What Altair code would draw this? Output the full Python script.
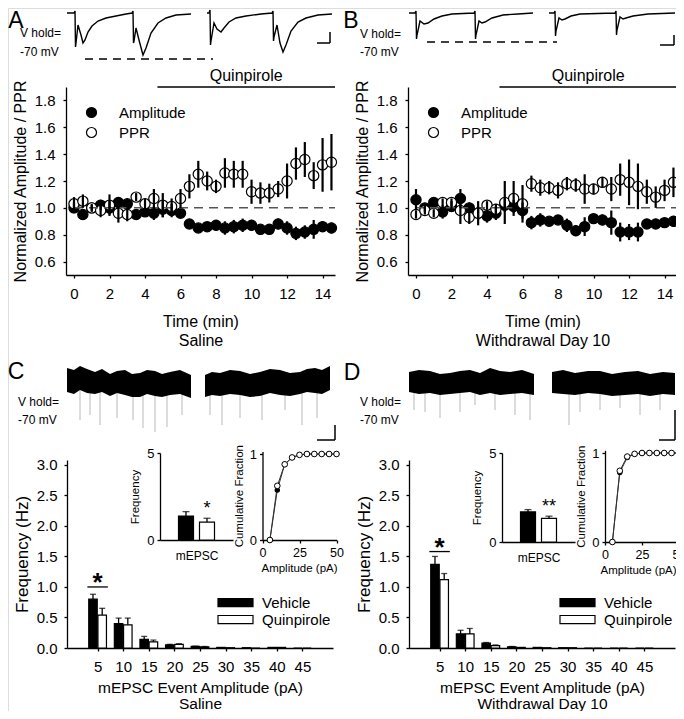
import altair as alt
import pandas as pd

FONT = "Liberation Sans"
W, H = 668, 703


def px(v):
    return v - 8


def py(v):
    return v - 8


# ---------------- data: panels A / B (time course) ----------------
times = [0.0, 0.5, 1.0, 1.5, 2.0, 2.5, 3.0, 3.5, 4.0, 4.5, 5.0, 5.5, 6.0, 6.5, 7.0,
         7.5, 8.0, 8.5, 9.0, 9.5, 10.0, 10.5, 11.0, 11.5, 12.0, 12.5, 13.0, 13.5, 14.0, 14.5]

sal_amp = [1.00, 0.95, 1.00, 1.02, 1.00, 1.04, 1.03, 0.95, 0.97, 0.96, 0.99, 0.98, 0.96, 0.88, 0.85,
           0.86, 0.87, 0.85, 0.86, 0.87, 0.87, 0.84, 0.84, 0.88, 0.85, 0.81, 0.82, 0.84, 0.86, 0.85]
sal_amp_err = [0.04, 0.03, 0.03, 0.04, 0.05, 0.04, 0.03, 0.02, 0.03, 0.05, 0.06, 0.05, 0.03, 0.02, 0.03,
               0.02, 0.04, 0.05, 0.05, 0.05, 0.04, 0.03, 0.04, 0.04, 0.05, 0.05, 0.05, 0.07, 0.04, 0.04]
sal_ppr = [1.03, 1.05, 1.00, 0.98, 1.02, 0.96, 0.95, 1.08, 1.03, 1.07, 1.02, 1.01, 1.07, 1.16, 1.25,
           1.20, 1.16, 1.26, 1.25, 1.25, 1.12, 1.11, 1.11, 1.14, 1.20, 1.33, 1.36, 1.24, 1.32, 1.34]
sal_ppr_err = [0.05, 0.05, 0.02, 0.05, 0.08, 0.07, 0.05, 0.03, 0.04, 0.07, 0.09, 0.06, 0.07, 0.09, 0.10,
               0.07, 0.05, 0.11, 0.10, 0.10, 0.09, 0.08, 0.07, 0.06, 0.13, 0.12, 0.13, 0.10, 0.20, 0.21]

wd_amp = [1.06, 1.00, 1.04, 0.97, 1.01, 1.07, 1.00, 0.96, 0.94, 0.96, 1.02, 1.01, 0.98, 0.89, 0.91,
          0.90, 0.91, 0.87, 0.83, 0.86, 0.92, 0.91, 0.89, 0.82, 0.82, 0.82, 0.88, 0.88, 0.89, 0.90]
wd_amp_err = [0.08, 0.03, 0.03, 0.05, 0.04, 0.07, 0.04, 0.05, 0.05, 0.05, 0.05, 0.05, 0.06, 0.05, 0.05,
              0.03, 0.03, 0.05, 0.04, 0.07, 0.03, 0.04, 0.09, 0.07, 0.06, 0.07, 0.03, 0.03, 0.03, 0.04]
wd_ppr = [0.95, 0.98, 0.96, 1.04, 1.04, 0.98, 0.93, 0.96, 1.02, 0.99, 1.04, 1.07, 1.03, 1.18, 1.15,
          1.15, 1.13, 1.18, 1.17, 1.14, 1.14, 1.19, 1.14, 1.21, 1.19, 1.16, 1.12, 1.08, 1.13, 1.19]
wd_ppr_err = [0.03, 0.03, 0.03, 0.03, 0.03, 0.10, 0.05, 0.09, 0.03, 0.04, 0.16, 0.13, 0.14, 0.06, 0.06,
              0.05, 0.06, 0.05, 0.05, 0.11, 0.04, 0.04, 0.09, 0.12, 0.17, 0.17, 0.09, 0.08, 0.08, 0.11]

baseline = 1.0
quin_period = [4.7, 14.7]
quin_level = 1.9

# ---------------- data: panels C / D (mEPSC histograms) ----------------
amp_bins = [5, 10, 15, 20, 25, 30, 35, 40, 45]
sal_veh = [0.80, 0.40, 0.14, 0.05, 0.025, 0.01, 0.005, 0.01, 0.0]
sal_veh_err = [0.08, 0.09, 0.05, 0.01, 0.005, 0.0, 0.0, 0.0, 0.0]
sal_quin = [0.54, 0.38, 0.10, 0.06, 0.02, 0.005, 0.0, 0.01, 0.0]
sal_quin_err = [0.11, 0.11, 0.03, 0.01, 0.005, 0.0, 0.0, 0.0, 0.0]
wd_veh = [1.37, 0.23, 0.08, 0.02, 0.01, 0.005, 0.0, 0.0, 0.0]
wd_veh_err = [0.13, 0.06, 0.01, 0.005, 0.0, 0.0, 0.0, 0.0, 0.0]
wd_quin = [1.12, 0.23, 0.04, 0.01, 0.005, 0.005, 0.0, 0.0, 0.0]
wd_quin_err = [0.10, 0.09, 0.01, 0.0, 0.0, 0.0, 0.0, 0.0, 0.0]
sal_sig = (5, 1.0)
wd_sig = (5, 1.58)

groups = ["Vehicle", "Quinpirole"]
sal_freq = [1.38, 1.03]
sal_freq_err = [0.25, 0.22]
wd_freq = [1.69, 1.33]
wd_freq_err = [0.13, 0.12]
sal_freq_mark = "*"
wd_freq_mark = "**"

cum_amp = [5, 10, 15, 20, 25, 30, 35, 40, 45, 50]
sal_cum_veh = [0.0, 0.58, 0.88, 0.96, 0.99, 1.0, 1.0, 1.0, 1.0, 1.0]
sal_cum_quin = [0.0, 0.63, 0.88, 0.96, 0.99, 1.0, 1.0, 1.0, 1.0, 1.0]
wd_cum_veh = [0.0, 0.78, 0.95, 0.99, 1.0, 1.0, 1.0, 1.0, 1.0, 1.0]
wd_cum_quin = [0.0, 0.80, 0.96, 0.99, 1.0, 1.0, 1.0, 1.0, 1.0, 1.0]

# ---------------- data: example traces (ms, pA-like units) ----------------
trA1 = [(1, 0), (8, 0), (9, 2), (9.5, -34), (10, -30), (12, -12), (15, -22), (17, -30), (19, -27),
        (22, -19), (26, -13), (32, -8), (40, -5), (50, -3), (60, -1), (66, 0), (67, 2), (67.5, -30),
        (68, -28), (70, -15), (73, -27), (77, -42), (80, -35), (85, -20), (92, -10), (100, -5),
        (110, -2), (125, -1)]
trA2 = [(141, 0), (143, 0), (144, 3), (144.5, -32), (145, -28), (148, -10), (151, -16), (155, -19),
        (158, -15), (163, -9), (170, -5), (180, -3), (195, -1), (206, 0), (207, 2), (207.5, -28),
        (208, -24), (211, -12), (214, -30), (217, -39), (220, -32), (225, -18), (232, -9), (240, -5),
        (252, -2), (266, -1)]
trB1 = [(1, 0), (7, 0), (8, 2), (8.5, -26), (9, -22), (12, -8), (16, -11), (20, -10), (26, -6),
        (34, -3), (44, -1), (66, 0), (67, 2), (67.5, -26), (68, -22), (71, -8), (74, -10), (77, -9),
        (84, -5), (95, -2), (110, -1), (125, 0)]
trB2 = [(141, 0), (146, 0), (147, 2), (147.5, -23), (148, -18), (151, -5), (154, -7), (157, -6),
        (163, -3), (172, -1), (207, 0), (208, 2), (208.5, -22), (209, -17), (212, -4), (215, -6),
        (218, -5), (225, -3), (240, -1), (267, 0)]
stimA = (19, 147, -46)
stimB = (19, 149, -29)
barA = (251, 264, -19, -30)
barB = (252, 266, -22, -32)

noiseC = [
    [(1, 2, -22), (8, 0, -24), (14, 4, -20), (21, 1, -23), (29, -2, -24), (36, 1, -22), (44, -4, -26),
     (51, -1, -23), (59, 0, -25), (66, -4, -27), (74, -3, -27), (81, 0, -24), (89, -1, -26),
     (96, -4, -27), (104, -2, -25), (114, 0, -24), (125, -5, -28)],
    [(139, -5, -27), (146, -2, -25), (154, -3, -26), (164, 0, -24), (174, -1, -25), (184, -4, -27),
     (194, -2, -26), (204, 1, -23), (214, 0, -25), (224, -3, -26), (234, -2, -24), (241, 1, -22),
     (249, 2, -23), (256, 0, -24), (264, 4, -20)],
]
spikesC = [(14, -50), (24, -45), (34, -55), (51, -48), (67, -50), (77, -58), (89, -62), (101, -57),
           (116, -45), (144, -45), (156, -55), (174, -48), (196, -50), (219, -40), (236, -55), (251, -48)]
noiseD = [
    [(1, -2, -22), (11, 0, -24), (22, -1, -23), (32, -4, -25), (42, -3, -24), (52, -1, -23),
     (62, 0, -22), (72, -3, -25), (82, 2, -23), (92, -1, -25), (102, -2, -24), (114, 0, -23),
     (126, -4, -25)],
    [(144, -2, -23), (155, 0, -24), (167, -3, -25), (180, -1, -23), (192, -1, -24), (204, -4, -26),
     (217, -2, -25), (230, -1, -24), (242, -4, -26), (255, -2, -24), (267, -3, -25)],
]
spikesD = [(6, -40), (17, -42), (32, -48), (52, -42), (67, -35), (87, -40), (107, -45), (122, -50),
           (161, -55), (172, -42), (192, -40), (212, -38), (232, -45), (252, -40)]
barC = (251, 269, -55, -70)
barD = (251, 267, -40, -70)


# ---------------- helpers ----------------
def ax_common(**kw):
    base = dict(grid=False, tickSize=3, labelFont=FONT, titleFont=FONT, labelColor="black",
                titleColor="black", domainColor="black", tickColor="black", domainWidth=1.3,
                tickWidth=1.3, titleFontWeight="normal", labelFlush=False, labelOverlap=False)
    base.update(kw)
    return alt.Axis(**base)


def scatter_panel(amp, amp_err, ppr, ppr_err, left, right, xtitle):
    rows = []
    for t, v, e in zip(times, amp, amp_err):
        rows.append(dict(t=t, v=v, lo=v - e, hi=v + e, series="Amplitude"))
    for t, v, e in zip(times, ppr, ppr_err):
        rows.append(dict(t=t, v=v, lo=v - e, hi=v + e, series="PPR"))
    df = pd.DataFrame(rows)
    xs = alt.Scale(domain=[-0.45, 14.7], range=[px(left), px(right)], nice=False, zero=False)
    ys = alt.Scale(domain=[0.5, 1.9], range=[py(275), py(87)], nice=False, zero=False)
    xax = ax_common(orient="bottom", offset=py(275) - H, values=[0, 2, 4, 6, 8, 10, 12, 14],
                    format="d", title=xtitle, labelFontSize=15, titleFontSize=16,
                    titleLineHeight=19, labelPadding=8, titlePadding=12)
    yax = ax_common(orient="left", offset=-px(left), values=[0.6, 0.8, 1.0, 1.2, 1.4, 1.6, 1.8],
                    format=".1f", title="Normalized Amplitude / PPR", labelFontSize=15,
                    titleFontSize=16, labelPadding=8, titlePadding=6)
    ref = pd.DataFrame({"x0": [0.0], "x1": [quin_period[1]], "y": [baseline]})
    quin = pd.DataFrame({"x0": [quin_period[0]], "x1": [quin_period[1]],
                         "xm": [(quin_period[0] + quin_period[1]) / 2], "y": [quin_level],
                         "label": ["Quinpirole"]})
    X = lambda f: alt.X(f, scale=xs, title=xtitle)
    Y = lambda f: alt.Y(f, scale=ys, title="Normalized Amplitude / PPR")
    pts = alt.Chart(df).mark_point(shape="circle", filled=True, size=105, stroke="black",
                                   strokeWidth=1.2, opacity=1).encode(
        x=alt.X("t:Q", scale=xs, axis=xax),
        y=alt.Y("v:Q", scale=ys, axis=yax),
        fill=alt.Fill("series:N", scale=alt.Scale(domain=["Amplitude", "PPR"], range=["black", "white"]),
                      legend=alt.Legend(orient="none", legendX=px(left + 18), legendY=py(105),
                                        title=None, symbolType="circle", symbolSize=100,
                                        symbolStrokeColor="black", symbolStrokeWidth=1.2,
                                        symbolOpacity=1, labelFontSize=15, labelFont=FONT,
                                        labelColor="black", labelOffset=20, rowPadding=4, padding=0)),
    )
    ref_rule = alt.Chart(ref).mark_rule(color="#555", strokeDash=[9, 6], strokeWidth=1.5).encode(
        x=X("x0:Q"), x2="x1:Q", y=Y("y:Q"))
    errs = alt.Chart(df).mark_rule(color="black", strokeWidth=2.2).encode(
        x=X("t:Q"), y=Y("lo:Q"), y2="hi:Q")
    q_rule = alt.Chart(quin).mark_rule(color="black", strokeWidth=1.3).encode(
        x=X("x0:Q"), x2="x1:Q", y=Y("y:Q"))
    q_text = alt.Chart(quin).mark_text(font=FONT, fontSize=16, dy=-11, color="black").encode(
        x=X("xm:Q"), y=Y("y:Q"), text="label:N")
    return alt.layer(pts, ref_rule, errs, q_rule, q_text)


def bar_panel(veh, veh_err, quin, quin_err, sig, left, xtitle):
    rows = []
    for b, v, e in zip(amp_bins, veh, veh_err):
        rows.append(dict(b=b, c=b - 0.9, v=v, hi=v + e, e=e, z=0.0, g="Vehicle"))
    for b, v, e in zip(amp_bins, quin, quin_err):
        rows.append(dict(b=b, c=b + 0.9, v=v, hi=v + e, e=e, z=0.0, g="Quinpirole"))
    df = pd.DataFrame(rows)
    dfe = df[df["e"] > 0]
    xs = alt.Scale(domain=[0, 50], range=[px(left), px(left + 266)], nice=False, zero=False)
    ys = alt.Scale(domain=[0, 3.08], range=[py(648), py(460)], nice=False, zero=False)
    xax = ax_common(orient="bottom", offset=py(648) - H, values=amp_bins, format="d", title=xtitle,
                    labelFontSize=15, titleFontSize=15.5, titleLineHeight=16, labelPadding=8,
                    titlePadding=6)
    yax = ax_common(orient="left", offset=-px(left), values=[0, 0.5, 1.0, 1.5, 2.0, 2.5, 3.0],
                    format=".1f", title="Frequency (Hz)", labelFontSize=15, titleFontSize=17,
                    labelPadding=7, titlePadding=5)
    X = lambda f: alt.X(f, scale=xs, title=xtitle)
    Y = lambda f: alt.Y(f, scale=ys, title="Frequency (Hz)")
    bars = alt.Chart(df).mark_bar(size=8.5, orient="vertical", stroke="black", strokeWidth=1.2).encode(
        x=alt.X("c:Q", scale=xs, axis=xax), y=alt.Y("v:Q", scale=ys, axis=yax), y2="z:Q",
        fill=alt.Fill("g:N", scale=alt.Scale(domain=groups, range=["black", "white"]),
                      legend=alt.Legend(orient="none", legendX=px(left + 150), legendY=py(594),
                                        title=None, symbolType="M-1,-0.23L1,-0.23L1,0.23L-1,0.23Z",
                                        symbolSize=1225, symbolStrokeColor="black",
                                        symbolStrokeWidth=1.2, symbolOpacity=1, labelFontSize=15,
                                        labelFont=FONT, labelColor="black", labelOffset=8,
                                        clipHeight=17, rowPadding=0, padding=0)))
    err = alt.Chart(dfe).mark_rule(color="black", strokeWidth=1.3).encode(
        x=X("c:Q"), y=Y("v:Q"), y2="hi:Q")
    caps = alt.Chart(dfe).mark_tick(orient="horizontal", size=6, thickness=1.3, color="black").encode(
        x=X("c:Q"), y=Y("hi:Q"))
    sdf = pd.DataFrame({"x0": [sig[0] - 2.0], "x1": [sig[0] + 2.0], "xm": [sig[0]], "y": [sig[1]],
                        "s": ["*"]})
    s_rule = alt.Chart(sdf).mark_rule(color="black", strokeWidth=1.3).encode(
        x=X("x0:Q"), x2="x1:Q", y=Y("y:Q"))
    s_text = alt.Chart(sdf).mark_text(font=FONT, fontSize=26, fontWeight="bold", dy=-4,
                                      color="black").encode(
        x=X("xm:Q"), y=Y("y:Q"), text="s:N")
    return alt.layer(bars, err, caps, s_rule, s_text)


def freq_inset(vals, errs, mark, left, y0, y5):
    df = pd.DataFrame({"pos": [1.0, 2.0], "v": vals, "hi": [v + e for v, e in zip(vals, errs)],
                       "z": [0.0, 0.0], "g": groups, "s": ["", mark]})
    xs = alt.Scale(domain=[0, 3], range=[px(left), px(left + 73)], nice=False, zero=False)
    ys = alt.Scale(domain=[0, 5], range=[py(y0), py(y5)], nice=False, zero=False)
    xax = ax_common(orient="bottom", offset=py(y0) - H, labels=False, ticks=False, title="mEPSC",
                    titleFontSize=12, titlePadding=10)
    yax = ax_common(orient="left", offset=-px(left), values=[0, 5], format="d", title="Frequency",
                    labelFontSize=13, titleFontSize=11.5, labelPadding=3, titlePadding=6)
    X = lambda f: alt.X(f, scale=xs, title="mEPSC")
    Y = lambda f: alt.Y(f, scale=ys, title="Frequency")
    bars = alt.Chart(df).mark_bar(size=15, orient="vertical", stroke="black", strokeWidth=1.2).encode(
        x=alt.X("pos:Q", scale=xs, axis=xax), y=alt.Y("v:Q", scale=ys, axis=yax), y2="z:Q",
        fill=alt.Fill("g:N", scale=alt.Scale(domain=groups, range=["black", "white"]), legend=None))
    err = alt.Chart(df).mark_rule(color="black", strokeWidth=1.3).encode(
        x=X("pos:Q"), y=Y("v:Q"), y2="hi:Q")
    caps = alt.Chart(df).mark_tick(orient="horizontal", size=7, thickness=1.3, color="black").encode(
        x=X("pos:Q"), y=Y("hi:Q"))
    star = alt.Chart(df).mark_text(font=FONT, fontSize=18, dy=-9, color="black").encode(
        x=X("pos:Q"), y=Y("hi:Q"), text="s:N")
    return alt.layer(bars, err, caps, star)


def cum_inset(veh, quin, left, y0, y1, title_x):
    rows = []
    for a, v in zip(cum_amp, veh):
        rows.append(dict(a=a, v=v, g="Vehicle"))
    for a, v in zip(cum_amp, quin):
        rows.append(dict(a=a, v=v, g="Quinpirole"))
    df = pd.DataFrame(rows)
    dv = df[df["g"] == "Vehicle"]
    dq = df[df["g"] == "Quinpirole"]
    xs = alt.Scale(domain=[0, 50], range=[px(left), px(left + 74)], nice=False, zero=False)
    top = y0 - (y0 - y1) * 1.03
    ys = alt.Scale(domain=[0, 1.03], range=[py(y0), py(top)], nice=False, zero=False)
    xax = ax_common(orient="bottom", offset=py(y0) - H, values=[0, 25, 50], format="d",
                    title="Amplitude (pA)", labelFontSize=12.5, titleFontSize=11.5, labelPadding=3,
                    titlePadding=4, titleX=px(title_x), titleAlign="center")
    yax = ax_common(orient="left", offset=-px(left), values=[0, 1], format="d",
                    title="Cumulative Fraction", labelFontSize=13, titleFontSize=11.5,
                    labelPadding=3, titlePadding=5)
    X = lambda f: alt.X(f, scale=xs, title="Amplitude (pA)")
    Y = lambda f: alt.Y(f, scale=ys, title="Cumulative Fraction")
    line = alt.Chart(df).mark_line(color="#333", strokeWidth=1).encode(
        x=alt.X("a:Q", scale=xs, axis=xax), y=alt.Y("v:Q", scale=ys, axis=yax), detail="g:N")
    pv = alt.Chart(dv).mark_point(shape="circle", filled=True, size=30, color="black", opacity=1).encode(
        x=X("a:Q"), y=Y("v:Q"))
    pq = alt.Chart(dq).mark_point(shape="circle", filled=True, size=32, fill="white", stroke="black",
                                  strokeWidth=1, opacity=1).encode(
        x=X("a:Q"), y=Y("v:Q"))
    return alt.layer(line, pv, pq)


def evoked_traces(tr1, tr2, stim, sbar, left):
    rows = []
    for name, tr in (("s1", tr1), ("s2", tr2)):
        for i, (t, v) in enumerate(tr):
            rows.append(dict(tr=name, i=i, t=t, v=v))
    df = pd.DataFrame(rows)
    xs = alt.Scale(domain=[0, 270], range=[px(left), px(left + 270)], nice=False, zero=False)
    ys = alt.Scale(domain=[-50, 5], range=[py(63), py(8)], nice=False, zero=False)
    line = alt.Chart(df).mark_line(color="black", strokeWidth=1.4).encode(
        x=alt.X("t:Q", scale=xs, axis=None), y=alt.Y("v:Q", scale=ys, axis=None),
        detail="tr:N", order="i:Q")
    sd = pd.DataFrame({"t0": [stim[0]], "t1": [stim[1]], "v": [stim[2]]})
    dash = alt.Chart(sd).mark_rule(color="black", strokeDash=[8, 6], strokeWidth=1.3).encode(
        x=alt.X("t0:Q", scale=xs, axis=None), x2="t1:Q", y=alt.Y("v:Q", scale=ys, axis=None))
    bd = pd.DataFrame({"x0": [sbar[1], sbar[0]], "x1": [sbar[1], sbar[1]],
                       "y0": [sbar[2], sbar[3]], "y1": [sbar[3], sbar[3]]})
    bar = alt.Chart(bd).mark_rule(color="black", strokeWidth=1.5).encode(
        x=alt.X("x0:Q", scale=xs, axis=None), x2="x1:Q",
        y=alt.Y("y0:Q", scale=ys, axis=None), y2="y1:Q")
    return alt.layer(line, dash, bar)


def noise_traces(noise, spikes, sbar, left):
    rows = []
    for k, seg in enumerate(noise):
        for t, top, bot in seg:
            rows.append(dict(seg=k, t=t, top=top, bot=bot))
    df = pd.DataFrame(rows)
    sp = pd.DataFrame({"t": [s[0] for s in spikes], "d": [s[1] for s in spikes],
                       "b": [-20.0] * len(spikes)})
    xs = alt.Scale(domain=[0, 270], range=[px(left), px(left + 270)], nice=False, zero=False)
    ys = alt.Scale(domain=[-75, 0], range=[py(445), py(370)], nice=False, zero=False)
    spk = alt.Chart(sp).mark_rule(color="#b0b0b0", strokeWidth=0.9).encode(
        x=alt.X("t:Q", scale=xs, axis=None), y=alt.Y("b:Q", scale=ys, axis=None), y2="d:Q")
    band = alt.Chart(df).mark_area(color="black", interpolate="linear").encode(
        x=alt.X("t:Q", scale=xs, axis=None), y=alt.Y("top:Q", scale=ys, axis=None), y2="bot:Q",
        detail="seg:N")
    bd = pd.DataFrame({"x0": [sbar[1], sbar[0]], "x1": [sbar[1], sbar[1]],
                       "y0": [sbar[2], sbar[3]], "y1": [sbar[3], sbar[3]]})
    bar = alt.Chart(bd).mark_rule(color="black", strokeWidth=1.5).encode(
        x=alt.X("x0:Q", scale=xs, axis=None), x2="x1:Q",
        y=alt.Y("y0:Q", scale=ys, axis=None), y2="y1:Q")
    return alt.layer(spk, band, bar)


def label(text, x, y, size=12, align="left", weight="normal"):
    return alt.Chart(alt.Data(values=[{"k": 1}])).mark_text(
        font=FONT, fontSize=size, align=align, baseline="middle", color="black",
        fontWeight=weight).encode(x=alt.value(px(x)), y=alt.value(py(y)), text=alt.value(text))


layers = [
    evoked_traces(trA1, trA2, stimA, barA, 66),
    evoked_traces(trB1, trB2, stimB, barB, 408),
    scatter_panel(sal_amp, sal_amp_err, sal_ppr, sal_ppr_err, 66, 335, ["Time (min)", "Saline"]),
    scatter_panel(wd_amp, wd_amp_err, wd_ppr, wd_ppr_err, 408, 677, ["Time (min)", "Withdrawal Day 10"]),
    noise_traces(noiseC, spikesC, barC, 66),
    noise_traces(noiseD, spikesD, barD, 408),
    bar_panel(sal_veh, sal_veh_err, sal_quin, sal_quin_err, sal_sig, 67,
              ["mEPSC Event Amplitude (pA)", "Saline"]),
    bar_panel(wd_veh, wd_veh_err, wd_quin, wd_quin_err, wd_sig, 409,
              ["mEPSC Event Amplitude (pA)", "Withdrawal Day 10"]),
    freq_inset(sal_freq, sal_freq_err, sal_freq_mark, 160, 540, 453),
    freq_inset(wd_freq, wd_freq_err, wd_freq_mark, 502, 542, 453),
    cum_inset(sal_cum_veh, sal_cum_quin, 262.5, 540, 454, 299),
    cum_inset(wd_cum_veh, wd_cum_quin, 605, 542, 453, 638),
    label("A", 16, 21, 23, "center"),
    label("B", 351, 21, 23, "center"),
    label("C", 16, 372, 23, "center"),
    label("D", 352, 373, 23, "center"),
    label("V hold=", 20, 33),
    label("-70 mV", 20, 52),
    label("V hold=", 360, 34),
    label("-70 mV", 360, 52),
    label("V hold=", 18, 402),
    label("-70 mV", 18, 420),
    label("V hold=", 360, 402),
    label("-70 mV", 360, 420),
]

chart = alt.layer(*layers).resolve_scale(
    x="independent", y="independent", fill="independent"
).resolve_legend(fill="independent").properties(
    width=W, height=H, autosize=alt.AutoSizeParams(type="none"), padding=0
).configure_view(stroke=None).configure(font=FONT).configure_axis(
    titleFontWeight="normal", labelFontWeight="normal"
)

chart.save("out.html", embed_options={"renderer": "svg", "actions": False})
